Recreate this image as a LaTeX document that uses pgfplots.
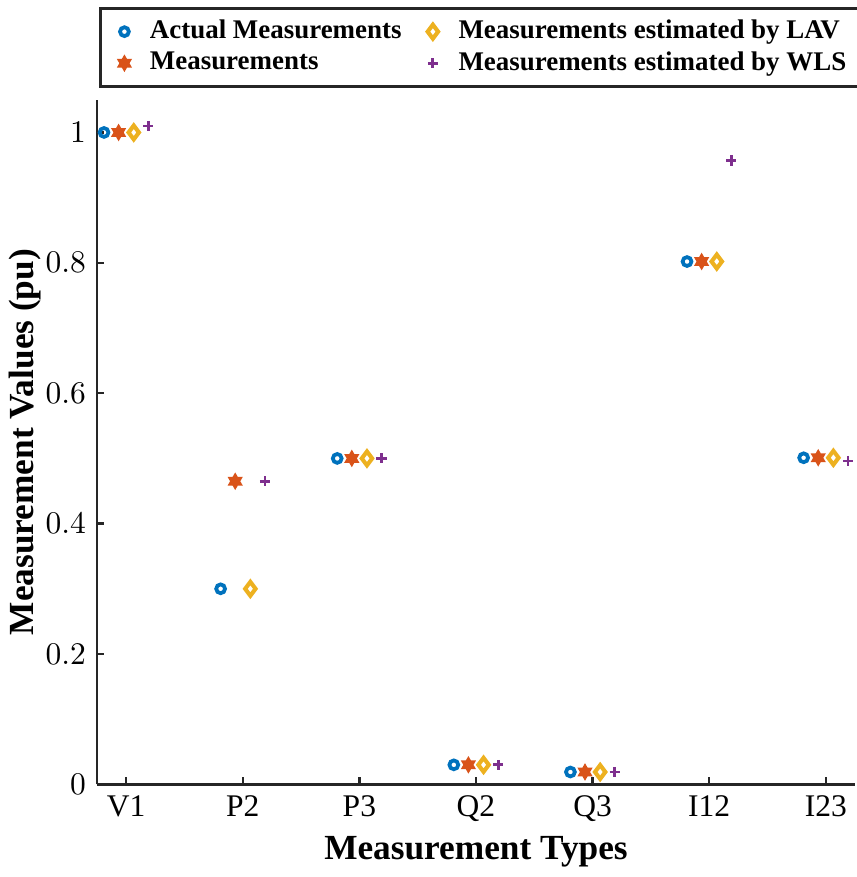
\documentclass[border=0pt]{standalone}
\usepackage{fontspec}
\setmainfont{Liberation Serif}
\usepackage{pgfplots}
\pgfplotsset{compat=1.18}

\definecolor{mblue}{rgb}{0,0.447,0.741}
\definecolor{morange}{rgb}{0.85,0.325,0.098}
\definecolor{myellow}{rgb}{0.929,0.694,0.125}
\definecolor{mpurple}{rgb}{0.494,0.184,0.556}
\definecolor{axgray}{rgb}{0.15,0.15,0.15}

% six-pointed star like MATLAB's 'h' marker
\pgfdeclareplotmark{hexagram}{%
  \pgfpathmoveto{\pgfqpointpolar{90}{\pgfplotmarksize}}%
  \pgfpathlineto{\pgfqpointpolar{210}{\pgfplotmarksize}}%
  \pgfpathlineto{\pgfqpointpolar{330}{\pgfplotmarksize}}%
  \pgfpathclose
  \pgfpathmoveto{\pgfqpointpolar{270}{\pgfplotmarksize}}%
  \pgfpathlineto{\pgfqpointpolar{30}{\pgfplotmarksize}}%
  \pgfpathlineto{\pgfqpointpolar{150}{\pgfplotmarksize}}%
  \pgfpathclose
  \pgfusepathqfillstroke}

\begin{document}
\begin{tikzpicture}
\path[use as bounding box] (-30.8pt,-29.4pt) rectangle (241pt,249pt);
\begin{axis}[
    scale only axis,
    width=240.6pt,
    height=217.3pt,
    xmin=0.75, xmax=7.25,
    ymin=0, ymax=1.05,
    xtick={1,2,3,4,5,6,7},
    xticklabels={$\mathrm{V1}$,$\mathrm{P2}$,$\mathrm{P3}$,$\mathrm{Q2}$,$\mathrm{Q3}$,$\mathrm{I12}$,$\mathrm{I23}$},
    ytick={0,0.2,0.4,0.6,0.8,1},
    yticklabels={$0$,$0.2$,$0.4$,$0.6$,$0.8$,$1$},
    axis lines=left,
    axis line style={-, line width=0.8pt, axgray},
    tick style={line width=0.8pt, axgray},
    major tick length=2.2pt,
    tick align=inside,
    xlabel={Measurement Types},
    ylabel={Measurement Values (pu)},
    label style={font=\fontsize{11.2}{13}\selectfont\bfseries},
    xlabel style={yshift=2pt},
    ylabel style={yshift=-5.5pt},
    clip=false,
    legend columns=2,
    transpose legend,
    legend cell align=left,
    legend image code/.code={%
        \path (0pt,0pt) (12.2pt,0pt);
        \draw[mark repeat=2,mark phase=2,#1] plot coordinates {(0pt,0pt)(7pt,0pt)(12.2pt,0pt)};},
    legend style={
        at={(0,1)}, anchor=south west, xshift=0.6pt, yshift=3.8pt,
        draw=axgray, line width=1pt,
        font=\fontsize{8.55}{10.5}\selectfont\bfseries,
        inner xsep=0pt, inner ysep=2.3pt,
        column sep=0.3pt,
        nodes={inner xsep=2pt, inner ysep=1.3pt}
    },
]
\addplot[only marks, mark=o, mark size=1.4pt, line width=1.2pt, color=mblue] coordinates {
    (0.81,1.0) (1.81,0.3) (2.81,0.5) (3.81,0.03) (4.81,0.019) (5.81,0.802) (6.81,0.501)
};
\addplot[only marks, mark=hexagram, mark size=2.2pt, line width=0.6pt, color=morange, fill=morange] coordinates {
    (0.935,1.0) (1.935,0.465) (2.935,0.5) (3.935,0.03) (4.935,0.019) (5.935,0.802) (6.935,0.501)
};
\addplot[only marks, mark=diamond, mark size=2.2pt, line width=1.3pt, color=myellow] coordinates {
    (1.065,1.0) (2.065,0.3) (3.065,0.5) (4.065,0.03) (5.065,0.019) (6.065,0.802) (7.065,0.501)
};
\addplot[only marks, mark=+, mark size=1.6pt, line width=0.9pt, color=mpurple] coordinates {
    (1.19,1.01) (2.19,0.465) (3.19,0.5) (4.19,0.03) (5.19,0.019) (6.19,0.957) (7.19,0.496)
};
\legend{Actual Measurements, Measurements, Measurements estimated by LAV, Measurements estimated by WLS\hspace*{8pt}}
\end{axis}
\end{tikzpicture}
\end{document}
